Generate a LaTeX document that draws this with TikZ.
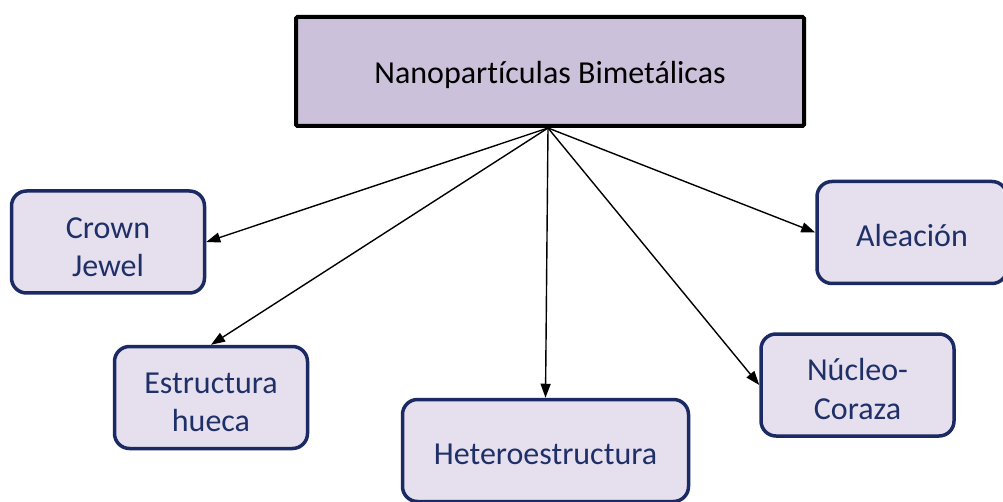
\documentclass[tikz,border=0pt]{standalone}
\usepackage{fontspec}
\setmainfont[Ligatures=NoCommon]{Carlito}
\usetikzlibrary{arrows.meta,calc}
\definecolor{topfill}{HTML}{CBC1DA}
\definecolor{boxfill}{HTML}{E6E0EE}
\definecolor{boxline}{HTML}{1B2A63}
\definecolor{boxtext}{HTML}{1F3068}
\begin{document}
\begin{tikzpicture}[x=1pt,y=-1pt,
  topbox/.style={draw=black,line width=4pt,fill=topfill,rounded corners=1.5pt,
    minimum width=508pt,minimum height=109pt,inner sep=0pt},
  toptext/.style={inner sep=0pt,font=\fontsize{32}{38}\selectfont},
  leaf/.style={draw=boxline,line width=3.5pt,fill=boxfill,rounded corners=15pt,
    minimum width=193pt,minimum height=102pt,inner sep=0pt},
  leaftext/.style={inner sep=0pt,align=center,text=boxtext,
    font=\fontsize{32}{38.5}\selectfont},
  link/.style={-{Triangle[length=14pt,width=10pt]},line width=1.4pt}]
\useasboundingbox (0,0) rectangle (1003,502);
\node[topbox] (top) at (550,71.5) {};
\node[toptext] (top-t) at ($(top.center)+(0,3)$) {Nanopartículas Bimetálicas};
\node[leaf] (cj) at (108,242) {};
\node[leaftext] (cj-t) at ($(cj.center)+(0,5)$) {Crown\\Jewel};
\node[leaf] (eh) at (211,397.5) {};
\node[leaftext] (eh-t) at ($(eh.center)+(0,5)$) {Estructura\\hueca};
\node[leaf,minimum width=286pt] (het) at (545.5,450.5) {};
\node[leaftext] (het-t) at ($(het.center)+(0,4)$) {Heteroestructura};
\node[leaf] (nc) at (857.5,385) {};
\node[leaftext] (nc-t) at ($(nc.center)+(0,4)$) {Núcleo-\\Coraza};
\node[leaf,minimum width=190pt] (al) at (912,232.5) {};
\node[leaftext] (al-t) at ($(al.center)+(0,3)$) {Aleación};
\coordinate (hub) at (548,128);
\draw[link] (hub) -- (cj.east);
\draw[link] (hub) -- (eh.north);
\draw[link] (hub) -- (het.north);
\draw[link] (hub) -- (nc.west);
\draw[link] (hub) -- (al.west);
\end{tikzpicture}
\end{document}
